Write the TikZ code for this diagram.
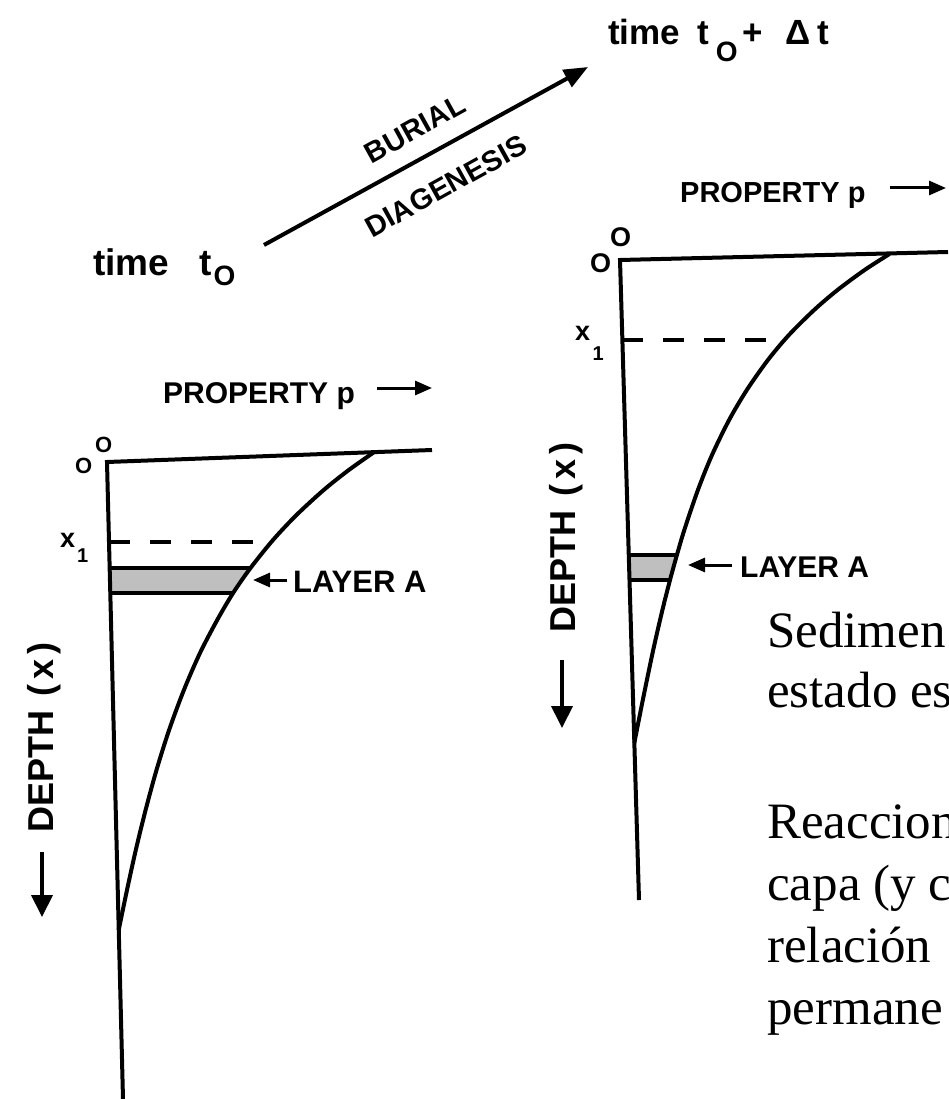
\documentclass[tikz,border=0pt]{standalone}
\usepackage{fontspec}
\setmainfont{Liberation Serif}
\newfontfamily\letterfont{Liberation Sans}
\usetikzlibrary{arrows.meta}

\tikzset{
  lettering/.style={font=\letterfont\bfseries\fontsize{#1}{#1}\selectfont, inner sep=0pt, anchor=base west},
  axisline/.style={line width=4pt, line join=miter},
  profile/.style={line width=4pt, line join=round},
  levelline/.style={line width=3.5pt, dash pattern=on 21pt off 20pt},
  layerband/.style={fill=black!25},
  layeredge/.style={line width=3.5pt},
  bigarrow/.style={line width=4pt, -{Triangle[length=24pt,width=19pt]}},
  deptharrow/.style={line width=4pt, -{Triangle[length=22pt,width=21pt]}},
  smallarrow/.style={line width=3pt, -{Triangle[length=17pt,width=14pt]}},
  prosa/.style={font=\fontsize{51}{61}\selectfont, inner sep=0pt, anchor=base west}
}

\begin{document}
\begin{tikzpicture}[x=1pt,y=-1pt]
\useasboundingbox (0,0) rectangle (948,1099);
% burial step
\node[lettering=37] (tzero) at (93,275) {time\hspace{30pt}t\hspace{2pt}\raisebox{-10pt}{\fontsize{28}{28}\selectfont O}};
\node[lettering=35] (tlater) at (608,45) {time\hspace{17pt}t\hspace{7pt}\raisebox{-17pt}{\fontsize{28}{28}\selectfont O}\hspace{5pt}+\hspace{22pt}Δ\hspace{7pt}t};
\coordinate (burialstart) at (264,245);
\coordinate (burialend) at (588,67);
\draw[bigarrow] (burialstart) -- (burialend);
\node[lettering=29, anchor=center, rotate=29] (burial) at (415,129) {BURIAL};
\node[lettering=29, anchor=center, rotate=29] (diagenesis) at (446,186) {DIAGENESIS};
% profile at time t0
\fill[layerband] (109.7,568) -- (250.5,568) -- (233.1,593) -- (110.3,593) -- cycle;
\draw[layeredge] (109.7,568) -- (250.5,568);
\draw[layeredge] (110.3,593) -- (233.1,593);
\draw[levelline] (109,542) -- (269,542);
\draw[axisline] (432,450) -- (107,462) -- (123,1099);
\draw[profile] plot[smooth, tension=0.5] coordinates {(374.3,452) (348.8,470) (323.7,490) (296.5,515) (273,540) (250.5,568) (233.1,593) (217.2,620) (200,653) (183.9,690) (169.1,730) (156.5,770) (145.6,810) (135.8,850) (127,890) (118.7,930)};
\node[lettering=30] (propleft) at (163,403) {PROPERTY p};
\coordinate (propleftA) at (377,388);
\coordinate (propleftB) at (432,388);
\draw[smallarrow] (propleftA) -- (propleftB);
\node[lettering=22] (originleft) at (75,473) {O};
\node[lettering=22] (originlefttop) at (95,452) {O};
\node[lettering=27] (xoneleft) at (60,547) {x\hspace{2pt}\raisebox{-15pt}{\fontsize{20}{20}\selectfont 1}};
\node[lettering=31] (layerleft) at (293,592) {LAYER A};
\coordinate (layerleftA) at (287,580);
\coordinate (layerleftB) at (253,580);
\draw[smallarrow] (layerleftA) -- (layerleftB);
\node[lettering=36, rotate=90] (depthleft) at (53,833) {DEPTH\hspace{14pt}(\hspace{5pt}x\hspace{5pt})};
\coordinate (depthleftA) at (42,852);
\coordinate (depthleftB) at (42,917);
\draw[deptharrow] (depthleftA) -- (depthleftB);
% profile at time t0 + dt
\fill[layerband] (628.8,555) -- (676.9,555) -- (670,580) -- (629.5,580) -- cycle;
\draw[layeredge] (628.8,555) -- (676.9,555);
\draw[layeredge] (629.5,580) -- (670,580);
\draw[levelline] (622.4,340) -- (780,340);
\draw[axisline] (948,252) -- (620,260) -- (639,900);
\draw[profile] plot[smooth, tension=0.5] coordinates {(889.5,254) (864.6,270) (837.5,290) (814.1,310) (788.9,335) (767.9,360) (746.8,390) (729.1,420) (712,455) (697.9,490) (684.3,530) (676.9,555) (670,580) (662.4,610) (653.2,650) (642.8,700) (634.3,743)};
\node[lettering=29] (propright) at (680,203) {PROPERTY p};
\coordinate (proprightA) at (890,188);
\coordinate (proprightB) at (946,188);
\draw[smallarrow] (proprightA) -- (proprightB);
\node[lettering=27] (originright) at (590,272) {O};
\node[lettering=27] (originrighttop) at (610,247) {O};
\node[lettering=27] (xoneright) at (575,340) {x\hspace{2.5pt}\raisebox{-20pt}{\fontsize{20}{20}\selectfont 1}};
\node[lettering=30] (layerright) at (740,577) {LAYER A};
\coordinate (layerrightA) at (732,565);
\coordinate (layerrightB) at (688,565);
\draw[smallarrow] (layerrightA) -- (layerrightB);
\node[lettering=36, rotate=90] (depthright) at (575,633) {DEPTH\hspace{14pt}(\hspace{5pt}x\hspace{5pt})};
\coordinate (depthrightA) at (562,660);
\coordinate (depthrightB) at (562,728);
\draw[deptharrow] (depthrightA) -- (depthrightB);
% notes
\begin{scope}
\clip (0,0) rectangle (948,1099);
\node[prosa] (sedA) at (767,647) {Sedimen};
\node[prosa] (sedB) at (767,707) {estado es};
\node[prosa] (reaA) at (767,838) {Reaccion};
\node[prosa] (reaB) at (767,900) {capa (y c};
\node[prosa] (reaC) at (767,962) {relación};
\node[prosa] (reaD) at (767,1024) {permane};
\end{scope}
\end{tikzpicture}
\end{document}
